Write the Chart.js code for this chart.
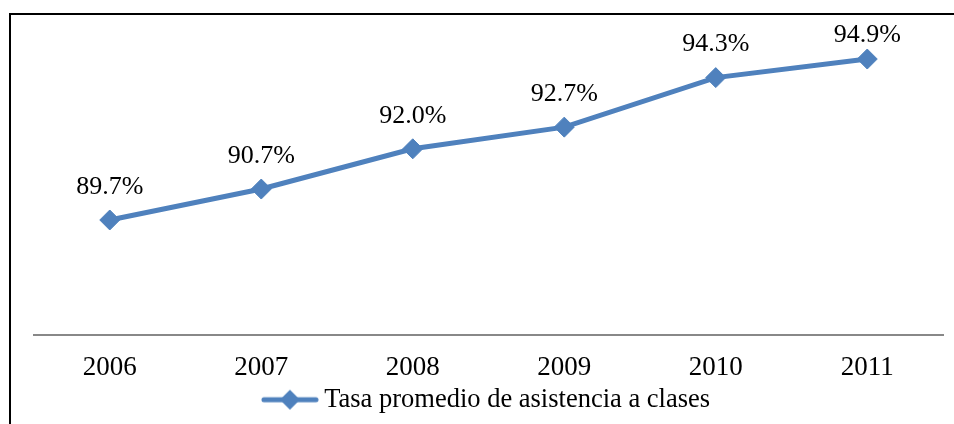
<!DOCTYPE html>
<html>
<head>
<meta charset="utf-8">
<script src="https://cdn.jsdelivr.net/npm/chart.js@4.4.1/dist/chart.umd.min.js"></script>
<style>
  html, body { margin: 0; padding: 0; background: #fff; overflow: hidden; }
  #wrap { position: relative; width: 954px; height: 424px; }
  #frame { position: absolute; left: 9px; top: 13px; width: 1000px; height: 500px; border: 2px solid #000; }
  #c { position: absolute; left: 0; top: 0; }
</style>
</head>
<body>
<div id="wrap">
  <div id="frame"></div>
  <canvas id="c" width="954" height="424"></canvas>
</div>
<script>
const years = ['2006', '2007', '2008', '2009', '2010', '2011'];
const asistencia = [89.7, 90.7, 92.0, 92.7, 94.3, 94.9];
const serieNombre = 'Tasa promedio de asistencia a clases';

const azul = '#4F81BD';
const fuente = 'Liberation Serif';

// marker for the legend: line with a diamond in the middle
const marca = document.createElement('canvas');
marca.width = 58;
marca.height = 22;
(function () {
    const g = marca.getContext('2d');
    g.strokeStyle = azul;
    g.lineWidth = 5;
    g.lineCap = 'round';
    g.beginPath();
    g.moveTo(3, 11);
    g.lineTo(55, 11);
    g.stroke();
    g.fillStyle = azul;
    g.beginPath();
    g.moveTo(29, 1);
    g.lineTo(39, 11);
    g.lineTo(29, 21);
    g.lineTo(19, 11);
    g.closePath();
    g.fill();
})();

const etiquetas = {
    id: 'etiquetas',
    afterDatasetsDraw(chart) {
        const ctx = chart.ctx;
        const meta = chart.getDatasetMeta(0);
        ctx.save();
        ctx.font = '26px "' + fuente + '"';
        ctx.fillStyle = '#000';
        ctx.textAlign = 'center';
        ctx.textBaseline = 'middle';
        meta.data.forEach(function (pt, i) {
            let y = pt.y - 33;
            if (y < 35) y = 35;
            ctx.fillText(asistencia[i].toFixed(1) + '%', pt.x, y);
        });
        ctx.restore();
    }
};

const chart = new Chart(document.getElementById('c'), {
    type: 'line',
    data: {
        labels: years,
        datasets: [
            {
                label: serieNombre,
                data: asistencia,
                borderColor: azul,
                backgroundColor: azul,
                borderWidth: 5,
                pointStyle: 'rectRot',
                pointRadius: 10,
                pointHoverRadius: 10,
                pointBorderWidth: 1,
                tension: 0
            }
        ]
    },
    options: {
        responsive: false,
        animation: false,
        layout: { padding: { left: 34, right: 9, top: 25, bottom: 1 } },
        scales: {
            x: {
                offset: true,
                grid: { display: false, drawTicks: false },
                border: { display: true, color: '#888', width: 2 },
                ticks: { color: '#000', font: { family: fuente, size: 27 }, padding: 17 },
                afterFit: function (scale) { scale.height = 52; }
            },
            y: {
                display: false,
                min: 86,
                max: 96
            }
        },
        plugins: {
            tooltip: { enabled: false },
            legend: {
                position: 'bottom',
                labels: {
                    color: '#000',
                    font: { family: fuente, size: 26.5 },
                    usePointStyle: true,
                    pointStyleWidth: 42,
                    padding: 0,
                    generateLabels: function (ch) {
                        return [{
                            text: serieNombre,
                            pointStyle: marca,
                            fillStyle: azul,
                            strokeStyle: azul,
                            lineWidth: 0,
                            datasetIndex: 0
                        }];
                    }
                }
            }
        }
    },
    plugins: [etiquetas]
});
</script>
</body>
</html>
